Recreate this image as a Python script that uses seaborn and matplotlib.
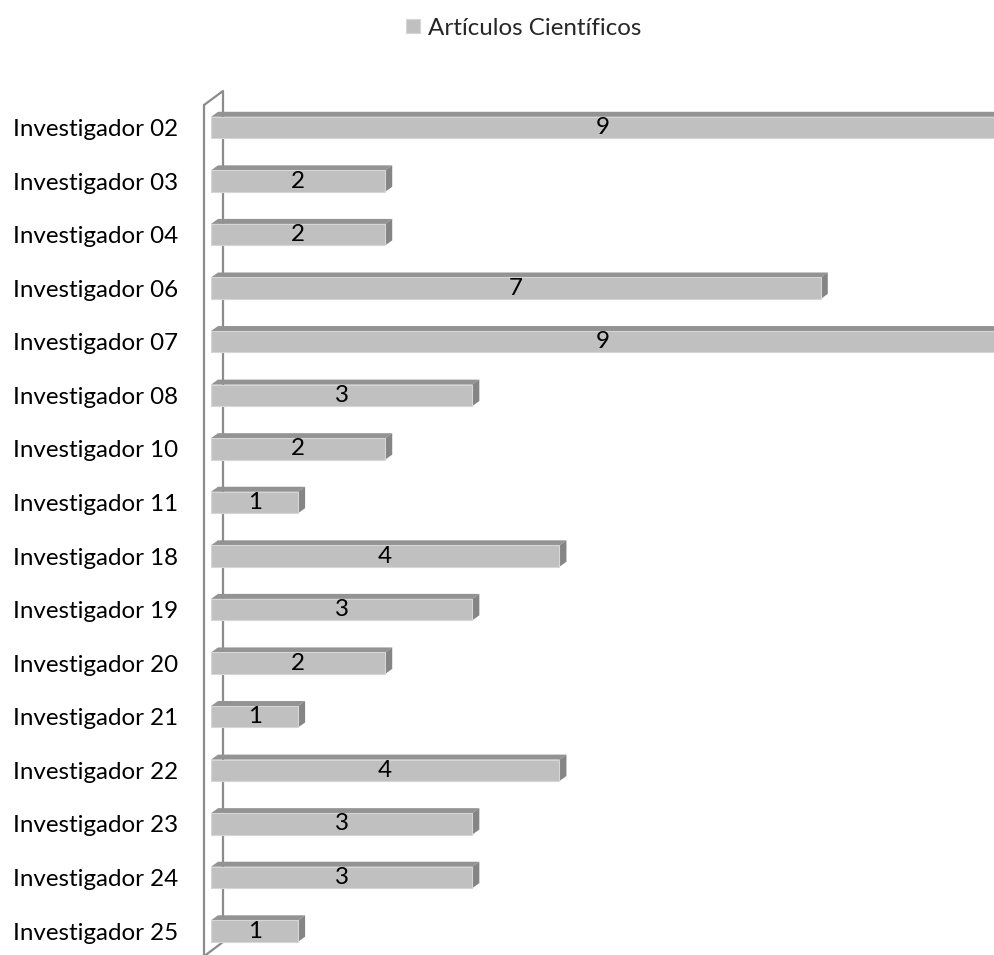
import numpy as np
import pandas as pd
import matplotlib
matplotlib.use("Agg")
import matplotlib.pyplot as plt
from matplotlib.patches import Polygon
from matplotlib.lines import Line2D
from matplotlib.transforms import IdentityTransform
import seaborn as sns

# ---- data ----
investigadores = ["Investigador 02", "Investigador 03", "Investigador 04", "Investigador 06",
                  "Investigador 07", "Investigador 08", "Investigador 10", "Investigador 11",
                  "Investigador 18", "Investigador 19", "Investigador 20", "Investigador 21",
                  "Investigador 22", "Investigador 23", "Investigador 24", "Investigador 25"]
articulos = [9, 2, 2, 7, 9, 3, 2, 1, 4, 3, 2, 1, 4, 3, 3, 1]
serie = "Artículos Científicos"

df = pd.DataFrame({"Investigador": investigadores, "Artículos": articulos, "Serie": serie})

FRONT = "#C0C0C0"
TOP = "#939393"
SIDE = "#858585"
WALL = "#8C8C8C"

sns.set_theme(style="white")
plt.rcParams["font.family"] = ["Lato", "DejaVu Sans"]
FS = 17.4

W, H = 995, 955
fig = plt.figure(figsize=(W / 100, H / 100), dpi=100)
# axes: x from pixel 211 to 995, y from pixel 90 to 955 (image coords)
ax = fig.add_axes([211 / W, 0.0, 1 - 211 / W, (H - 90) / H])

sns.barplot(data=df, y="Investigador", x="Artículos", hue="Serie", palette=[FRONT],
            width=0.4, dodge=False, orient="h", ax=ax, edgecolor="#D6D6D6", linewidth=0.8,
            saturation=1, zorder=2)

ax.set_xlim(0, 9)
ax.set_ylim(15.448, -0.7)
ax.set_xlabel("")
ax.set_ylabel("")
ax.set_xticks([])
for s in ax.spines.values():
    s.set_visible(False)
ax.tick_params(axis="y", length=0, pad=23.5, labelsize=FS, labelcolor="black")

for c in ax.containers:
    ax.bar_label(c, labels=[str(v) for v in articulos], label_type="center", fontsize=FS, color="black")

sns.move_legend(ax, "upper center", bbox_to_anchor=(524 / W, 1 - 8 / H), bbox_transform=fig.transFigure,
                frameon=False, title=None, fontsize=FS, handlelength=0.55, handleheight=0.55,
                handletextpad=0.35, borderaxespad=0)

# ---- 3D faces ----
fig.canvas.draw()
dx, dy = 7, 5
for p in ax.patches:
    x0, y0 = p.get_x(), p.get_y()
    w, h = p.get_width(), p.get_height()
    (ax0, ay0) = ax.transData.transform((x0, y0))
    (ax1, ay1) = ax.transData.transform((x0 + w, y0 + h))
    xl, xr = min(ax0, ax1), max(ax0, ax1)
    yb, yt = min(ay0, ay1), max(ay0, ay1)
    top = Polygon([(xl, yt), (xr, yt), (xr + dx, yt + dy), (xl + dx, yt + dy)], closed=True,
                  transform=IdentityTransform(), facecolor=TOP, edgecolor="none", zorder=1.5)
    side = Polygon([(xr, yb), (xr, yt), (xr + dx, yt + dy), (xr + dx, yb + dy)], closed=True,
                   transform=IdentityTransform(), facecolor=SIDE, edgecolor="none", zorder=1.5)
    top.set_clip_path(ax.patch)
    side.set_clip_path(ax.patch)
    ax.add_artist(top)
    ax.add_artist(side)

# ---- wall (3D axis) ----
x_zero = ax.transData.transform((0, 0))[0]
y_first = ax.transData.transform((0, 0))[1]
xf, xb = x_zero - 7, x_zero + 12
ytop_f = y_first + 22.5
ytop_b = ytop_f + 14
ybot_b = 13
for xs, ys in [([xf, xf], [ytop_f, -5]),
               ([xf, xb, xb, xf - 1], [ytop_f, ytop_b, ybot_b, -2])]:
    ax.add_line(Line2D(xs, ys, transform=IdentityTransform(), color=WALL, lw=1.6, zorder=0.5,
                       clip_on=False))

fig.savefig("out.png", dpi=100)
